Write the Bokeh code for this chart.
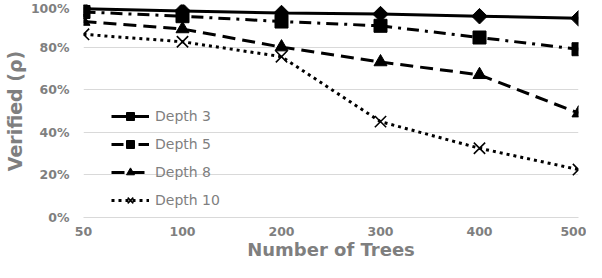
from bokeh.plotting import figure
from bokeh.models import Range1d, FixedTicker, NumeralTickFormatter, Legend, LegendItem
from bokeh.embed import file_html
from bokeh.resources import INLINE
import math

categories = ["50", "100", "200", "300", "400", "500"]
depth3 = [0.98, 0.97, 0.96, 0.955, 0.945, 0.935]
depth5 = [0.965, 0.945, 0.92, 0.90, 0.845, 0.79]
depth8 = [0.92, 0.885, 0.80, 0.73, 0.67, 0.49]
depth10 = [0.86, 0.825, 0.755, 0.45, 0.325, 0.225]
series_names = ["Depth 3", "Depth 5", "Depth 8", "Depth 10"]
y_ticks = [0, 0.2, 0.4, 0.6, 0.8, 1.0]

xs = list(range(len(categories)))
GRAY = "#7f7f7f"
GRID = "#d9d9d9"

p = figure(width=586, height=262, output_backend="svg", toolbar_location=None,
           x_range=Range1d(0, len(categories) - 1), y_range=Range1d(0, 1),
           min_border_left=0, min_border_right=8, min_border_top=4, min_border_bottom=0)
p.outline_line_color = None
p.background_fill_color = "white"

p.xaxis.ticker = FixedTicker(ticks=xs)
p.xaxis.major_label_overrides = {i: c for i, c in enumerate(categories)}
p.yaxis.ticker = FixedTicker(ticks=y_ticks)
p.yaxis.formatter = NumeralTickFormatter(format="0%")
p.ygrid.ticker = FixedTicker(ticks=y_ticks)
p.xgrid.grid_line_color = None
p.ygrid.grid_line_color = GRID
p.ygrid.grid_line_width = 1

for ax in (p.xaxis[0], p.yaxis[0]):
    ax.major_tick_line_color = None
    ax.minor_tick_line_color = None
    ax.major_tick_out = 0
    ax.major_tick_in = 0
    ax.minor_tick_out = 0
    ax.minor_tick_in = 0
    ax.major_label_text_font = "DejaVu Sans"
    ax.major_label_text_font_style = "bold"
    ax.major_label_text_font_size = "12.5px"
    ax.major_label_text_color = GRAY
    ax.axis_label_text_font = "DejaVu Sans"
    ax.axis_label_text_font_style = "bold"
    ax.axis_label_text_color = GRAY
p.yaxis.axis_line_color = None
p.xaxis.axis_line_color = GRID
p.xaxis.major_label_standoff = 9
p.yaxis.major_label_standoff = 14
p.xaxis.axis_label = "Number of Trees"
p.xaxis.axis_label_text_font_size = "18px"
p.xaxis.axis_label_standoff = 0
p.yaxis.axis_label = "Verified (\u03c1)"
p.yaxis.axis_label_text_font_size = "19px"
p.yaxis.axis_label_standoff = 2

styles = [
    (depth3, None, "square", 11, math.pi / 4),
    (depth5, "12 6 3 6", "square", 13, 0),
    (depth8, "13 7", "triangle", 13, 0),
    (depth10, "3 4", "x", 16, 0),
]
items = []
for (vals, dash, marker, size, angle), name in zip(styles, series_names):
    kw = {} if dash is None else {"line_dash": dash}
    r1 = p.line(xs, vals, line_color="black", line_width=3, **kw)
    if marker == "x":
        r2 = p.scatter(xs, vals, marker=marker, size=size, line_color="black", line_width=1.6)
    else:
        r2 = p.scatter(xs, vals, marker=marker, size=size, angle=angle,
                       fill_color="black", line_color="black")
    items.append(LegendItem(label=name, renderers=[r1, r2]))

legend = Legend(items=items, location=(28, 7), background_fill_alpha=0,
                border_line_alpha=0, padding=0, margin=0, spacing=8,
                glyph_width=38, glyph_height=20, label_height=20, label_standoff=6,
                label_text_font="DejaVu Sans", label_text_font_size="14px",
                label_text_color=GRAY)
p.add_layout(legend, "center")

open("out.html", "w").write(file_html(p, INLINE))
